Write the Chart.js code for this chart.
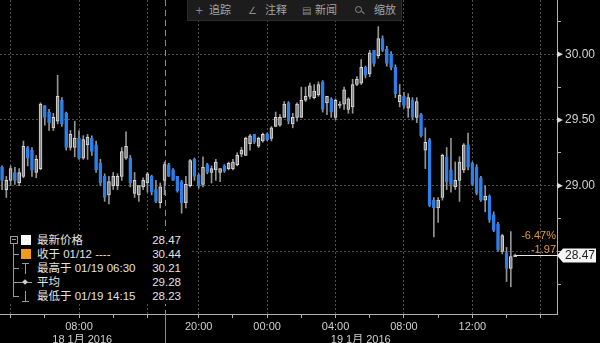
<!DOCTYPE html>
<html><head><meta charset="utf-8">
<script src="https://cdn.jsdelivr.net/npm/chart.js@4.4.0/dist/chart.umd.min.js"></script>
<style>
html,body{margin:0;padding:0;background:#000;}
#wrap{position:relative;width:600px;height:343px;overflow:hidden;background:#000;font-family:"Liberation Sans","Noto Sans CJK SC",sans-serif;}
canvas{display:block;}
#toolbar{position:absolute;left:187px;top:0;width:215px;height:21px;background:#1c1c1c;border:1px solid #2c2c2c;border-top:none;box-sizing:border-box;color:#a4a4a4;font-size:11px;}
#toolbar span{position:absolute;top:4px;line-height:13px;white-space:nowrap;}
#toolbar .ic{font-family:"DejaVu Sans",sans-serif;font-size:10px;color:#8a8a8a;}
#mag{position:absolute;left:167px;top:6px;width:5px;height:5px;border:1px solid #8a8a8a;border-radius:50%;}
#magh{position:absolute;left:173px;top:12px;width:4px;height:1px;background:#8a8a8a;transform:rotate(45deg);}
#legend{position:absolute;left:0;top:231px;width:190px;height:73px;background:#000;color:#e2e2e2;font-size:11.5px;}
#legend .row{position:absolute;left:37px;right:9px;height:13px;line-height:13px;white-space:nowrap;}
#legend .row .v{position:absolute;right:0;top:0;}
#legend .ln{position:absolute;background:#9a9a9a;}
#legend .sq{position:absolute;width:10px;height:10px;}
</style></head>
<body><div id="wrap">
<canvas id="c" width="600" height="343"></canvas>
<div id="toolbar"></div>
<div id="legend"></div>
</div>
<script>
// ---------- data ----------
const sessionDates = ['18 1月 2016', '19 1月 2016'];
const sessionStarts = ['03:30', '18:00'];
const sessionBars = [38, 83];
const labeledTimes = [['08:00'], ['20:00', '00:00', '04:00', '08:00', '12:00']];

const open = [29.14,28.97,29.04,29.10,29.02,29.07,29.29,29.27,29.10,29.13,
29.61,29.56,29.44,29.49,29.65,29.55,29.29,29.29,29.36,29.21,
29.31,29.36,29.31,29.17,29.07,28.93,29.00,29.00,29.07,29.21,
29.21,28.94,28.93,28.99,29.02,29.07,28.97,28.87,29.04,29.16,
29.12,29.07,29.03,28.87,29.00,29.20,29.08,29.01,29.16,29.10,
29.12,29.10,29.15,29.13,29.13,29.16,29.24,29.23,29.32,29.39,
29.30,29.34,29.39,29.36,29.45,29.46,29.52,29.63,29.47,29.52,
29.52,29.65,29.68,29.67,29.69,29.79,29.63,29.66,29.52,29.61,
29.62,29.58,29.60,29.77,29.78,29.90,29.85,30.03,29.99,30.12,
30.04,30.00,29.90,29.64,29.68,29.59,29.65,29.52,29.54,29.27,
29.35,28.89,28.83,28.91,29.22,29.12,28.99,29.04,29.12,29.31,
29.17,29.14,29.06,28.89,28.92,28.78,28.71,28.50,28.49,28.37,
28.46];
const high = [29.15,29.07,29.15,29.14,29.13,29.34,29.30,29.29,29.23,29.63,
29.61,29.58,29.55,29.84,29.67,29.56,29.42,29.49,29.42,29.38,
29.39,29.38,29.34,29.20,29.09,29.07,29.10,29.09,29.29,29.41,
29.23,29.10,29.00,29.06,29.10,29.08,29.04,29.02,29.18,29.17,
29.13,29.07,29.04,29.07,29.20,29.21,29.09,29.22,29.17,29.15,
29.20,29.13,29.16,29.18,29.20,29.25,29.29,29.37,29.39,29.39,
29.37,29.40,29.40,29.45,29.56,29.54,29.64,29.64,29.55,29.63,
29.75,29.75,29.78,29.77,29.79,29.80,29.68,29.67,29.66,29.64,
29.75,29.67,29.81,29.83,29.96,29.91,30.03,30.03,30.21,30.14,
30.06,30.02,29.92,29.77,29.71,29.70,29.67,29.67,29.55,29.44,
29.36,28.91,28.91,29.24,29.29,29.36,29.18,29.22,29.32,29.40,
29.18,29.16,29.07,29.00,28.93,28.80,28.72,28.63,28.53,28.65,
28.48];
const low = [28.97,28.91,29.00,29.01,29.00,29.06,29.15,29.07,29.06,29.12,
29.46,29.42,29.42,29.47,29.45,29.27,29.27,29.22,29.20,29.20,
29.20,29.23,29.10,29.00,28.88,28.86,28.97,28.97,29.04,29.20,
28.99,28.91,28.88,28.97,28.95,28.93,28.87,28.83,28.93,29.07,
29.04,28.95,28.79,28.83,28.99,29.04,28.98,28.99,29.09,29.02,
29.04,29.03,29.10,29.12,29.12,29.15,29.22,29.23,29.27,29.32,
29.29,29.33,29.34,29.34,29.45,29.45,29.52,29.47,29.44,29.49,
29.52,29.64,29.66,29.66,29.68,29.56,29.54,29.52,29.50,29.59,
29.58,29.55,29.55,29.76,29.77,29.82,29.83,29.91,29.97,30.02,
29.91,29.88,29.67,29.60,29.59,29.52,29.50,29.48,29.37,29.13,
28.84,28.61,28.72,28.89,28.97,28.95,28.97,28.88,29.10,29.12,
29.00,28.93,28.88,28.80,28.72,28.65,28.50,28.48,28.27,28.23,
28.46];
const close = [29.04,29.04,29.13,29.04,29.10,29.30,29.21,29.12,29.20,29.62,
29.52,29.48,29.52,29.68,29.47,29.29,29.39,29.36,29.21,29.35,
29.37,29.26,29.12,29.02,28.91,29.03,29.07,29.07,29.26,29.30,
29.02,29.04,29.00,29.04,29.09,28.95,28.88,28.99,29.16,29.07,
29.04,28.96,28.87,29.01,29.19,29.07,29.00,29.14,29.10,29.13,
29.18,29.13,29.11,29.17,29.18,29.23,29.27,29.36,29.38,29.33,
29.36,29.39,29.35,29.44,29.52,29.52,29.62,29.49,29.52,29.62,
29.65,29.68,29.76,29.72,29.77,29.58,29.68,29.56,29.65,29.62,
29.73,29.66,29.77,29.81,29.90,29.84,30.01,29.93,30.12,30.03,
29.93,29.90,29.70,29.69,29.61,29.67,29.52,29.64,29.38,29.33,
28.85,28.83,28.89,29.23,29.03,29.01,29.04,29.18,29.31,29.14,
29.01,28.94,28.89,28.92,28.74,28.66,28.51,28.62,28.37,28.46,
28.47];

const yTickValues = [28.25, 28.5, 28.75, 29, 29.25, 29.5, 29.75, 30, 30.25];
const yGridValues = [28.5, 29, 29.5, 30];
const yLabelValues = [29, 29.5, 30];
const lastPrice = 28.47;
const prevClose = 30.44;
const legendNames = ['最新价格', '收于 01/12 ----', '最高于 01/19 06:30', '平均', '最低于 01/19 14:15'];
const legendValues = ['28.47', '30.44', '30.21', '29.28', '28.23'];
const toolbarLabels = ['追踪', '注释', '新闻', '缩放'];

// ---------- helpers ----------
const X_MIN = -0.48, X_MAX = 129.8, Y_MIN = 28.023, Y_MAX = 30.413;
function toMin(s){const p=s.split(':').map(Number);return p[0]*60+p[1];}
const sessionFirst=[]; let acc=0; sessionBars.forEach(n=>{sessionFirst.push(acc);acc+=n;});
const nBars = acc;
function sessionOf(i){let s=0;for(let k=0;k<sessionFirst.length;k++) if(i>=sessionFirst[k]) s=k;return s;}
function timeOf(i){const s=sessionOf(i);const m=((toMin(sessionStarts[s])+15*(i-sessionFirst[s]))%1440+1440)%1440;
  return String(Math.floor(m/60)).padStart(2,'0')+':'+String(m%60).padStart(2,'0');}
const categories = Array.from({length:nBars},(_,i)=>timeOf(i));

const xTicks=[];
for(let i=Math.ceil(X_MIN);i<=X_MAX;i++){
  const s=sessionOf(i);
  if(s>0 && i===sessionFirst[s]) continue;
  const t=timeOf(i); const h=+t.slice(0,2), m=+t.slice(3);
  if(m===0 && h%2===0) xTicks.push({value:i, major:h%4===0, label: labeledTimes[s].includes(t)?t:''});
}
const bounds=[X_MIN].concat(sessionFirst.slice(1)).concat([X_MAX]);
const dateTicks=sessionDates.map((d,k)=>({value:(bounds[k]+bounds[k+1])/2,label:d}));
const findX=v=>xTicks.find(t=>Math.abs(t.value-v)<1e-6);
const inList=(list,v)=>list.some(l=>Math.abs(l-v)<1e-6);

const isUp=i=>close[i]>=open[i];
const bodies=categories.map((c,i)=>({x:i,y:[open[i],close[i]]}));
const wicks=categories.map((c,i)=>({x:i,y:[low[i],high[i]]}));

const BLUE='#2f7fe8', UPFILL='#858585', UPLINE='#d8d8d8';
const noPad=s=>{s.paddingTop=0;s.paddingBottom=0;s.paddingLeft=0;s.paddingRight=0;};

const bgPlugin={id:'bg',beforeDraw(ch){const c=ch.ctx;c.save();c.fillStyle='#000';c.fillRect(0,0,ch.width,ch.height);c.restore();}};
const sepPlugin={id:'sep',beforeDatasetsDraw(ch){
  const c=ch.ctx, xs=ch.scales.x, a=ch.chartArea;
  c.save(); c.strokeStyle='#8a8a8a'; c.lineWidth=1;
  sessionFirst.slice(1).forEach(v=>{
    const px=Math.round(xs.getPixelForValue(v))+0.5;
    c.setLineDash([6,4]); c.beginPath(); c.moveTo(px,a.top); c.lineTo(px,a.bottom); c.stroke();
    c.setLineDash([]); c.beginPath(); c.moveTo(px,a.bottom); c.lineTo(px,ch.height); c.stroke();
  });
  c.restore();
}};
const lastPlugin={id:'last',afterDraw(ch){
  const c=ch.ctx, xs=ch.scales.x, ys=ch.scales.y, a=ch.chartArea;
  c.save();
  c.fillStyle='#dcdcdc';
  yLabelValues.forEach(v=>{const py=ys.getPixelForValue(v);c.beginPath();c.moveTo(a.right,py-3);c.lineTo(a.right+6,py);c.lineTo(a.right,py+3);c.closePath();c.fill();});
  const py=Math.round(ys.getPixelForValue(lastPrice))+0.5;
  const px0=xs.getPixelForValue(nBars-1);
  c.strokeStyle='#e8e8e8'; c.lineWidth=1;
  c.beginPath(); c.moveTo(px0,py); c.lineTo(a.right,py); c.stroke();
  c.fillStyle='#f4f4f4';
  c.beginPath(); c.moveTo(a.right,py); c.lineTo(a.right+6,py-7); c.lineTo(596,py-7); c.lineTo(596,py+7); c.lineTo(a.right+6,py+7); c.closePath(); c.fill();
  c.fillStyle='#1a1a1a'; c.font='12px "Liberation Sans", sans-serif'; c.textBaseline='middle'; c.textAlign='left';
  c.fillText(lastPrice.toFixed(2), a.right+8, py+0.5);
  const chg=lastPrice-prevClose, pct=chg/prevClose*100;
  c.fillStyle='#e39a2e'; c.font='11px "Liberation Sans", sans-serif'; c.textAlign='right';
  c.fillText(pct.toFixed(2)+'%', a.right-1, py-20);
  c.fillText(chg.toFixed(2), a.right-1, py-6);
  c.restore();
}};

new Chart(document.getElementById('c'),{
  type:'bar',
  data:{datasets:[
    {data:bodies, grouped:false, barThickness:3, minBarLength:1.2, borderWidth:1, borderSkipped:false,
     backgroundColor:ctx=>isUp(ctx.dataIndex)?UPFILL:BLUE,
     borderColor:ctx=>isUp(ctx.dataIndex)?UPLINE:BLUE},
    {data:wicks, grouped:false, barThickness:1, borderWidth:0, borderSkipped:false,
     backgroundColor:'#939393'}
  ]},
  options:{
    responsive:false, animation:false, devicePixelRatio:1,
    layout:{padding:0},
    plugins:{legend:{display:false},tooltip:{enabled:false}},
    scales:{
      x:{type:'linear',position:'bottom',min:X_MIN,max:X_MAX,offset:false,weight:0,
        afterBuildTicks:s=>{s.ticks=xTicks.map(t=>({value:t.value}));},
        afterFit:s=>{s.height=19;noPad(s);},
        grid:{offset:false,drawOnChartArea:true,drawTicks:true,tickLength:4,lineWidth:1,
          color:ctx=>{const t=ctx.tick&&findX(ctx.tick.value);return t&&t.major?'#4e4e4e':'rgba(0,0,0,0)';},
          tickColor:'#b0b0b0',tickBorderDash:[]},
        border:{display:true,color:'#b0b0b0',width:1,dash:[2,2]},
        ticks:{autoSkip:false,maxRotation:0,padding:2,color:'#cfcfcf',font:{size:11,family:'"Liberation Sans", sans-serif'},
          callback:v=>{const t=findX(v);return t?t.label:'';}}
      },
      x2:{type:'linear',position:'bottom',min:X_MIN,max:X_MAX,offset:false,weight:1,
        afterBuildTicks:s=>{s.ticks=dateTicks.map(t=>({value:t.value}));},
        afterFit:s=>{s.height=10;noPad(s);},
        grid:{display:false,drawTicks:false},border:{display:false},
        ticks:{autoSkip:false,maxRotation:0,padding:0,color:'#cfcfcf',font:{size:11,family:'"Liberation Sans","Noto Sans CJK SC", sans-serif'},
          callback:v=>{const t=dateTicks.find(d=>Math.abs(d.value-v)<1e-6);return t?t.label:'';}}
      },
      y:{type:'linear',position:'right',min:Y_MIN,max:Y_MAX,
        afterBuildTicks:s=>{s.ticks=yTickValues.map(v=>({value:v}));},
        afterFit:s=>{s.width=43;noPad(s);},
        grid:{drawTicks:true,tickLength:4,lineWidth:1,
          color:ctx=>ctx.tick&&inList(yGridValues,ctx.tick.value)?'#4e4e4e':'rgba(0,0,0,0)',
          tickColor:'#b0b0b0',tickBorderDash:[]},
        border:{display:true,color:'#b0b0b0',width:1,dash:[2,2]},
        ticks:{autoSkip:false,padding:4,color:'#d0d0d0',font:{size:12,family:'"Liberation Sans", sans-serif'},
          callback:v=>inList(yLabelValues,v)?v.toFixed(2):''}
      }
    }
  },
  plugins:[bgPlugin,sepPlugin,lastPlugin]
});

// ---------- toolbar ----------
(function(){
  const tb=document.getElementById('toolbar');
  const icons=['+','∠','▤',''];
  const iconX=[7,60,114,0];
  const textX=[21,77,127,186];
  toolbarLabels.forEach((l,k)=>{
    if(icons[k]){const s=document.createElement('span');s.className='ic';s.textContent=icons[k];s.style.left=iconX[k]+'px';tb.appendChild(s);}
    const t=document.createElement('span');t.textContent=l;t.style.left=textX[k]+'px';tb.appendChild(t);
  });
  const m=document.createElement('div');m.id='mag';tb.appendChild(m);
  const h=document.createElement('div');h.id='magh';tb.appendChild(h);
})();

// ---------- legend ----------
(function(){
  const lg=document.getElementById('legend');
  const rowC=[9,23,37,51,65];
  const add=(cls,css)=>{const d=document.createElement('div');d.className=cls;Object.assign(d.style,css);lg.appendChild(d);return d;};
  legendNames.forEach((n,k)=>{
    const r=add('row',{top:(rowC[k]-6.5)+'px'});
    r.appendChild(document.createTextNode(n));
    const v=document.createElement('span');v.className='v';v.textContent=legendValues[k];r.appendChild(v);
  });
  add('ln',{left:'10px',top:'5px',width:'6px',height:'6px',background:'transparent',border:'1px solid #9a9a9a'});
  add('ln',{left:'12px',top:'8px',width:'4px',height:'1px'});
  add('ln',{left:'13px',top:'13px',width:'1px',height:(rowC[4]-13)+'px'});
  [1,2,3,4].forEach(k=>add('ln',{left:'13px',top:rowC[k]+'px',width:'6px',height:'1px'}));
  add('sq',{left:'21px',top:(rowC[0]-5)+'px',background:'#fafafa'});
  add('sq',{left:'21px',top:(rowC[1]-5)+'px',background:'#f29a1a'});
  add('ln',{left:'22px',top:(rowC[2]-5)+'px',width:'7px',height:'1px'});
  add('ln',{left:'25px',top:(rowC[2]-5)+'px',width:'1px',height:'11px'});
  add('ln',{left:'19px',top:rowC[3]+'px',width:'13px',height:'1px'});
  add('ln',{left:'23px',top:(rowC[3]-2)+'px',width:'4px',height:'4px',transform:'rotate(45deg)',background:'#cfcfcf'});
  add('ln',{left:'25px',top:(rowC[4]-5)+'px',width:'1px',height:'11px'});
  add('ln',{left:'22px',top:(rowC[4]+5)+'px',width:'7px',height:'1px'});
})();
</script>
</body></html>
